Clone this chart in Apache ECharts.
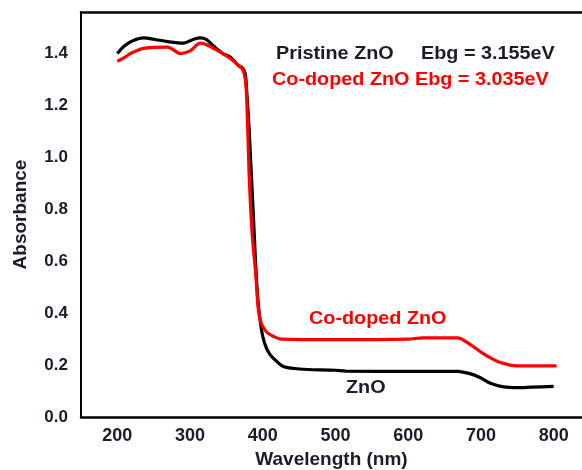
<!DOCTYPE html>
<html>
<head>
<meta charset="utf-8">
<script src="https://cdn.jsdelivr.net/npm/echarts@6/dist/echarts.min.js"></script>
<style>
  html, body { margin: 0; padding: 0; background: #fff; }
  #chart { width: 582px; height: 470px; }
</style>
</head>
<body>
<div id="chart"></div>
<script>
// UV-Vis absorbance spectra: wavelength (nm) and absorbance pairs
const pristineWavelength = [200, 210, 222, 236, 250, 269, 291, 305, 314, 322, 332, 345, 356, 366, 372, 376, 378, 381, 384, 387, 390, 393, 396, 400, 405, 410, 415, 425, 434, 450, 462, 500, 514, 600, 668, 686, 700, 713, 731, 750, 770, 800];
const pristineAbs =        [1.40, 1.43, 1.45, 1.46, 1.455, 1.446, 1.44, 1.455, 1.46, 1.455, 1.43, 1.40, 1.385, 1.355, 1.345, 1.32, 1.25, 1.12, 0.95, 0.78, 0.60, 0.46, 0.38, 0.31, 0.265, 0.24, 0.225, 0.20, 0.19, 0.185, 0.183, 0.18, 0.177, 0.176, 0.176, 0.166, 0.15, 0.13, 0.116, 0.113, 0.115, 0.118];

const codopedWavelength = [200, 210, 218, 236, 269, 287, 300, 314, 322, 332, 345, 356, 366, 372, 376, 378, 381, 385, 388, 390, 392, 394, 398, 402, 406, 415, 425, 500, 600, 620, 668, 685, 700, 715, 727, 748, 804];
const codopedAbs =        [1.37, 1.385, 1.40, 1.42, 1.425, 1.40, 1.41, 1.44, 1.435, 1.42, 1.40, 1.38, 1.355, 1.34, 1.30, 1.22, 0.95, 0.72, 0.62, 0.56, 0.48, 0.41, 0.36, 0.34, 0.325, 0.31, 0.30, 0.298, 0.300, 0.305, 0.305, 0.28, 0.25, 0.225, 0.21, 0.197, 0.197];

const xTickLabels = [200, 300, 400, 500, 600, 700, 800];
const yTickLabels = ['0.0', '0.2', '0.4', '0.6', '0.8', '1.0', '1.2', '1.4'];

const FONT = '"Liberation Sans", Arial, sans-serif';
const textColor = '#1b1b2b';
const SIZE = 18;

const pairs = (xs, ys) => xs.map((x, i) => [x, ys[i]]);

// annotation text, slightly widened
function note(text, x, y, color) {
  return {
    type: 'text', x: x, y: y, scaleX: 1.1, scaleY: 1,
    style: { text: text, font: 'bold ' + SIZE + 'px ' + FONT, fill: color, verticalAlign: 'top', align: 'left' }
  };
}

const chart = echarts.init(document.getElementById('chart'), null, { renderer: 'canvas' });

chart.setOption({
  animation: false,
  backgroundColor: '#ffffff',
  grid: { left: 81, right: 0, top: 12, bottom: 53, containLabel: false, outerBoundsMode: 'none' },
  xAxis: [
    {
      type: 'value',
      min: 150,
      max: 839,
      interval: 50,
      name: 'Wavelength (nm)',
      nameLocation: 'middle',
      nameGap: 32,
      nameTextStyle: { fontFamily: FONT, fontWeight: 'bold', fontSize: 19, color: textColor },
      axisLine: { show: true, lineStyle: { color: '#000', width: 2.5 } },
      axisTick: { show: false },
      splitLine: { show: false },
      axisLabel: {
        margin: 10,
        fontFamily: FONT, fontWeight: 'bold', fontSize: SIZE, color: textColor,
        showMaxLabel: false,
        formatter: v => (xTickLabels.indexOf(Math.round(v)) >= 0 && Math.abs(v - Math.round(v)) < 1e-6) ? String(Math.round(v)) : ''
      }
    },
    {
      type: 'value',
      position: 'top',
      min: 150,
      max: 839,
      axisLine: { show: true, onZero: false, lineStyle: { color: '#000', width: 2.5 } },
      axisTick: { show: false },
      axisLabel: { show: false },
      splitLine: { show: false }
    }
  ],
  yAxis: {
    type: 'value',
    min: 0,
    max: 1.56,
    interval: 0.2,
    name: 'Absorbance',
    nameLocation: 'middle',
    nameGap: 51,
    nameTextStyle: { fontFamily: FONT, fontWeight: 'bold', fontSize: 19, color: textColor },
    axisLine: { show: true, lineStyle: { color: '#000', width: 2 } },
    axisTick: { show: false },
    splitLine: { show: false },
    axisLabel: {
      margin: 13,
      fontFamily: FONT, fontWeight: 'bold', fontSize: 17, color: textColor,
      showMaxLabel: false,
      formatter: v => {
        const s = v.toFixed(1);
        return yTickLabels.indexOf(s) >= 0 && Math.abs(v - parseFloat(s)) < 1e-6 ? s : '';
      }
    }
  },
  series: [
    {
      name: 'Pristine ZnO',
      type: 'line',
      data: pairs(pristineWavelength, pristineAbs),
      showSymbol: false,
      smooth: 0.3,
      lineStyle: { color: '#000000', width: 3.2 },
      z: 2
    },
    {
      name: 'Co-doped ZnO',
      type: 'line',
      data: pairs(codopedWavelength, codopedAbs),
      showSymbol: false,
      smooth: 0.3,
      lineStyle: { color: '#ff0000', width: 3.2 },
      z: 3
    }
  ],
  graphic: [
    note('Pristine ZnO', 276, 45, textColor),
    note('Ebg = 3.155eV', 421, 45, textColor),
    note('Co-doped ZnO Ebg = 3.035eV', 272, 71, '#ff0000'),
    note('Co-doped ZnO', 309, 310, '#ff0000'),
    note('ZnO', 346, 379, textColor)
  ]
});
</script>
</body>
</html>
